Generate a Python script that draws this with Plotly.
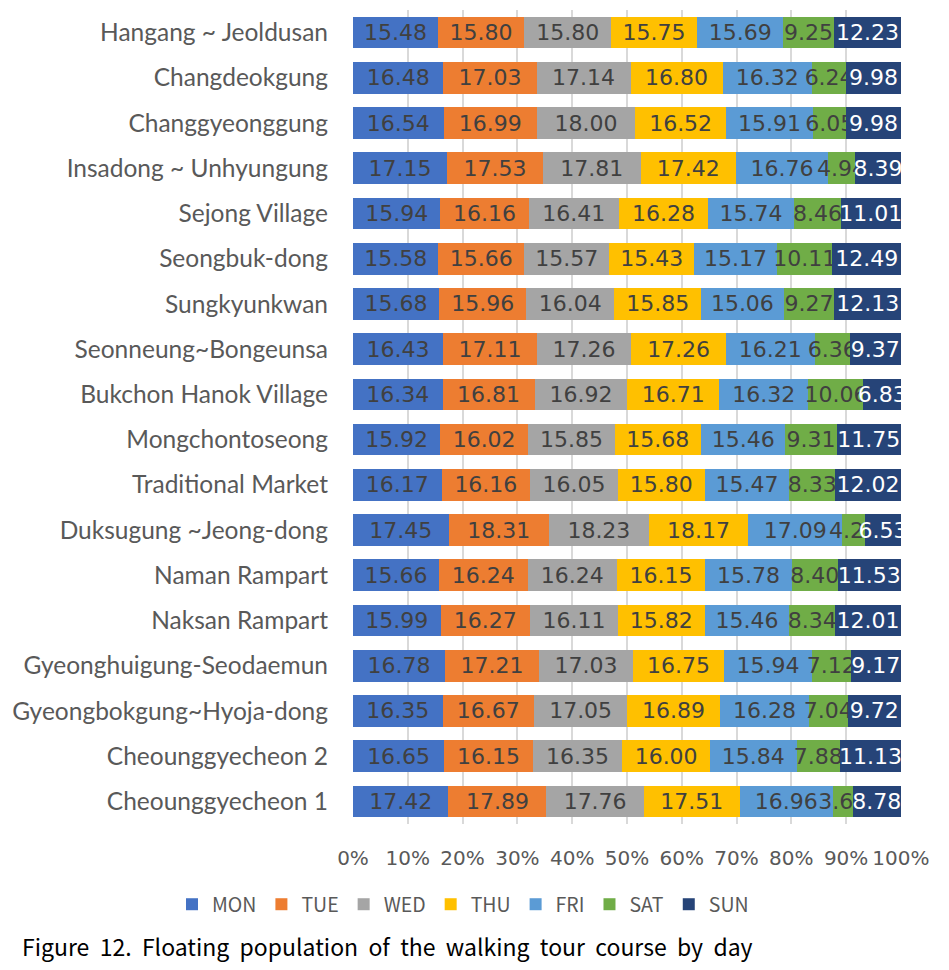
import plotly.graph_objects as go

courses = [
    "Hangang ~ Jeoldusan", "Changdeokgung", "Changgyeonggung", "Insadong ~ Unhyungung",
    "Sejong Village", "Seongbuk-dong", "Sungkyunkwan", "Seonneung~Bongeunsa",
    "Bukchon Hanok Village", "Mongchontoseong", "Traditional Market", "Duksugung ~Jeong-dong",
    "Naman Rampart", "Naksan Rampart", "Gyeonghuigung-Seodaemun", "Gyeongbokgung~Hyoja-dong",
    "Cheounggyecheon 2", "Cheounggyecheon 1",
]
days = ["MON", "TUE", "WED", "THU", "FRI", "SAT", "SUN"]

mon = [15.48, 16.48, 16.54, 17.15, 15.94, 15.58, 15.68, 16.43, 16.34, 15.92, 16.17, 17.45, 15.66, 15.99, 16.78, 16.35, 16.65, 17.42]
tue = [15.80, 17.03, 16.99, 17.53, 16.16, 15.66, 15.96, 17.11, 16.81, 16.02, 16.16, 18.31, 16.24, 16.27, 17.21, 16.67, 16.15, 17.89]
wed = [15.80, 17.14, 18.00, 17.81, 16.41, 15.57, 16.04, 17.26, 16.92, 15.85, 16.05, 18.23, 16.24, 16.11, 17.03, 17.05, 16.35, 17.76]
thu = [15.75, 16.80, 16.52, 17.42, 16.28, 15.43, 15.85, 17.26, 16.71, 15.68, 15.80, 18.17, 16.15, 15.82, 16.75, 16.89, 16.00, 17.51]
fri = [15.69, 16.32, 15.91, 16.76, 15.74, 15.17, 15.06, 16.21, 16.32, 15.46, 15.47, 17.09, 15.78, 15.46, 15.94, 16.28, 15.84, 16.96]
sat = [9.25, 6.24, 6.05, 4.94, 8.46, 10.11, 9.27, 6.36, 10.06, 9.31, 8.33, 4.22, 8.40, 8.34, 7.12, 7.04, 7.88, 3.68]
sun = [12.23, 9.98, 9.98, 8.39, 11.01, 12.49, 12.13, 9.37, 6.83, 11.75, 12.02, 6.53, 11.53, 12.01, 9.17, 9.72, 11.13, 8.78]

tick_vals = [0, 10, 20, 30, 40, 50, 60, 70, 80, 90, 100]
tick_labels = ["0%", "10%", "20%", "30%", "40%", "50%", "60%", "70%", "80%", "90%", "100%"]

series = [mon, tue, wed, thu, fri, sat, sun]
colors = ["#4472C4", "#ED7D31", "#A5A5A5", "#FFC000", "#5B9BD5", "#70AD47", "#264478"]
text_colors = ["#404040"] * 6 + ["#FFFFFF"]

PW = 548.0  # plot width in px, used only to place legend / caption in paper units

fig = go.Figure()
for name, vals, c, tc in zip(days, series, colors, text_colors):
    fig.add_trace(go.Bar(
        y=courses, x=vals, name=name, orientation="h",
        marker=dict(color=c, line=dict(width=0)),
        text=[f"{v:.2f}" for v in vals],
        textposition="inside", insidetextanchor="middle", textangle=0,
        constraintext="none",
        textfont=dict(family="DejaVu Sans", size=22, color=tc),
        cliponaxis=False,
    ))

fig.update_layout(
    barmode="stack", barnorm="percent", bargap=0.3,
    width=941, height=962,
    margin=dict(l=345, r=48, t=2, b=146, autoexpand=False),
    plot_bgcolor="white", paper_bgcolor="white",
    uniformtext=dict(minsize=22, mode="show"),
    showlegend=True,
    legend=dict(
        orientation="h", x=(172 - 353) / PW, xanchor="left", y=-0.075, yanchor="top",
        font=dict(family="Noto Sans CJK KR", size=19.5, color="#595959"),
        itemwidth=30, traceorder="normal", tracegroupgap=0,
    ),
    xaxis=dict(
        range=[0, 100.02], tickmode="array", tickvals=tick_vals, ticktext=tick_labels,
        showgrid=True,
        gridcolor="#D9D9D9", gridwidth=2, zeroline=False, showline=False,
        tickfont=dict(family="DejaVu Sans", size=20, color="#595959"),
        ticklabelstandoff=20, automargin=False,
    ),
    yaxis=dict(
        autorange="reversed", showgrid=False, showline=False,
        tickfont=dict(family="Lato", size=24.5, color="#595959"),
        ticklabelstandoff=24, automargin=False,
    ),
    annotations=[dict(
        text="Figure\u00a0 12.\u00a0 Floating\u00a0 population\u00a0 of\u00a0 the\u00a0 walking\u00a0 tour\u00a0 course\u00a0 by\u00a0 day",
        xref="paper", yref="paper", x=(20 - 353) / PW, y=-0.127, xanchor="left", yanchor="top",
        showarrow=False, font=dict(family="Noto Sans CJK KR", size=23, color="#000000"),
    )],
)

fig.write_html("out.html")
